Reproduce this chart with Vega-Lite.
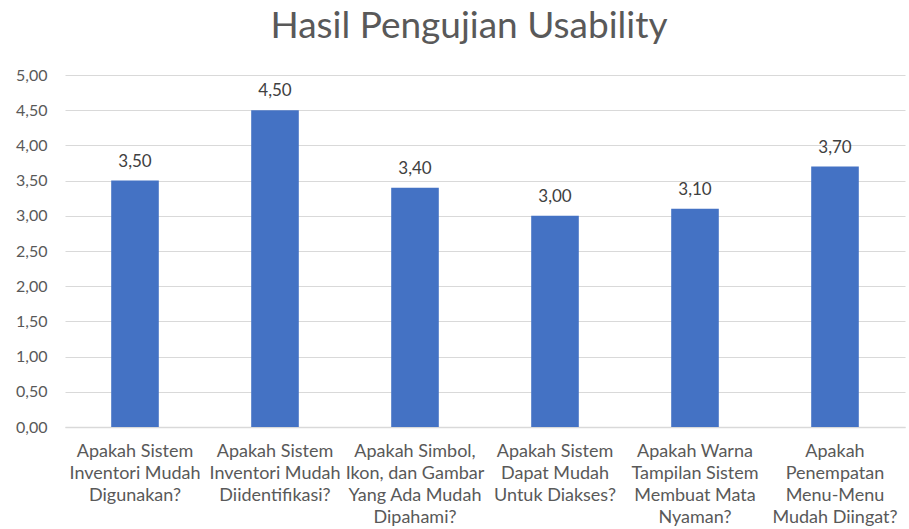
{
  "$schema": "https://vega.github.io/schema/vega-lite/v6.json",
  "autosize": "none",
  "width": 840,
  "height": 352,
  "padding": {"left": 65, "top": 75, "right": 4, "bottom": 102},
  "background": "white",
  "config": {
    "view": {"stroke": null},
    "font": "Lato",
    "locale": {"number": {"decimal": ",", "thousands": ".", "grouping": [3], "currency": ["", " €"]}}
  },
  "title": {
    "text": "Hasil Pengujian Usability",
    "fontSize": 37,
    "fontWeight": "normal",
    "color": "#595959",
    "font": "Lato",
    "anchor": "middle",
    "dx": -16,
    "offset": 21
  },
  "data": {
    "values": [
      {"q": "Apakah Sistem|Inventori Mudah|Digunakan?", "value": 3.5},
      {"q": "Apakah Sistem|Inventori Mudah|Diidentifikasi?", "value": 4.5},
      {"q": "Apakah Simbol,|Ikon, dan Gambar|Yang Ada Mudah|Dipahami?", "value": 3.4},
      {"q": "Apakah Sistem|Dapat Mudah|Untuk Diakses?", "value": 3.0},
      {"q": "Apakah Warna|Tampilan Sistem|Membuat Mata|Nyaman?", "value": 3.1},
      {"q": "Apakah|Penempatan|Menu-Menu|Mudah Diingat?", "value": 3.7}
    ]
  },
  "encoding": {
    "x": {
      "field": "q",
      "type": "nominal",
      "sort": null,
      "title": null,
      "scale": {"paddingInner": 0.66, "paddingOuter": 0.33},
      "axis": {
        "labelExpr": "split(datum.value, '|')",
        "labelAngle": 0,
        "labelFontSize": 18,
        "labelColor": "#595959",
        "labelLineHeight": 22,
        "labelPadding": 15,
        "labelBaseline": "top",
        "ticks": false,
        "domainColor": "#d9d9d9",
        "domainWidth": 1.5,
        "grid": false
      }
    },
    "y": {
      "field": "value",
      "type": "quantitative",
      "title": null,
      "scale": {"domain": [0, 5]},
      "axis": {
        "values": [0, 0.5, 1, 1.5, 2, 2.5, 3, 3.5, 4, 4.5, 5],
        "format": ".2f",
        "labelFontSize": 16,
        "labelColor": "#595959",
        "labelPadding": 18,
        "ticks": false,
        "domain": false,
        "gridColor": "#d9d9d9",
        "gridWidth": 1
      }
    }
  },
  "layer": [
    {"mark": {"type": "bar", "color": "#4472C4"}},
    {
      "mark": {"type": "text", "baseline": "bottom", "dy": -10, "fontSize": 17, "color": "#404040"},
      "encoding": {"text": {"field": "value", "type": "quantitative", "format": ".2f"}}
    }
  ]
}
